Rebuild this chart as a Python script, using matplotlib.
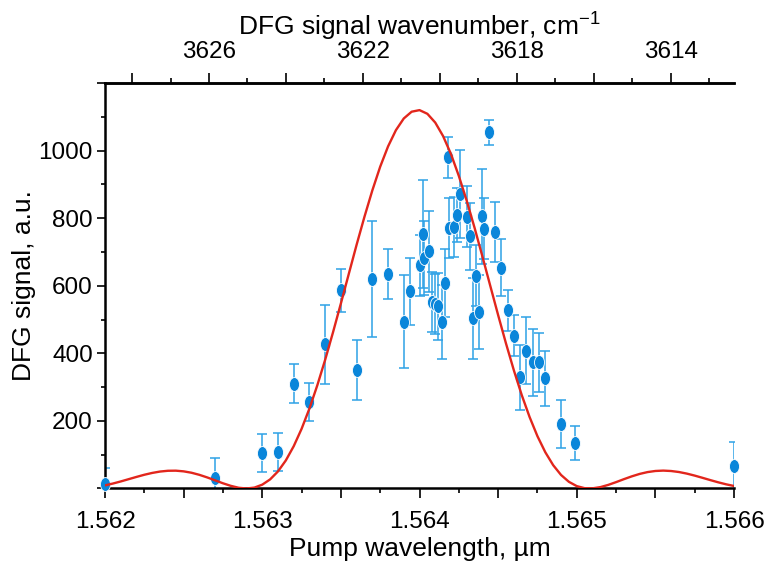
import numpy as np
import matplotlib
matplotlib.use("Agg")
import matplotlib.pyplot as plt
from matplotlib.ticker import MultipleLocator, FuncFormatter
from matplotlib.path import Path
from matplotlib.transforms import Affine2D

plt.rcParams['font.family'] = ['Liberation Sans', 'DejaVu Sans']
plt.rcParams['mathtext.fontset'] = 'custom'
plt.rcParams['mathtext.rm'] = 'Liberation Sans'
plt.rcParams['mathtext.default'] = 'regular'

# %% Measured DFG signal (pump wavelength in um, signal in a.u., error)
wl = [1.56200, 1.56270, 1.56300, 1.56310, 1.56320, 1.56330, 1.56340, 1.56350,
      1.56360, 1.56370, 1.56380, 1.56390, 1.56394, 1.56400, 1.56402, 1.56403,
      1.56406, 1.56408, 1.56410, 1.56412, 1.56414, 1.56416, 1.56418, 1.56419,
      1.56422, 1.56424, 1.56426, 1.56430, 1.56432, 1.56434, 1.56436, 1.56438,
      1.56440, 1.56441, 1.56444, 1.56448, 1.56452, 1.56456, 1.56460, 1.56464,
      1.56468, 1.56472, 1.56476, 1.56480, 1.56490, 1.56499, 1.56600]
signal = [12, 30, 104, 108, 310, 257, 427, 586,
          351, 620, 635, 494, 583, 660, 753, 683,
          702, 552, 546, 539, 492, 608, 980, 771,
          774, 810, 872, 804, 746, 504, 630, 523,
          805, 769, 1054, 759, 654, 527, 452, 329,
          408, 374, 374, 326, 191, 135, 68]
err = [48, 60, 56, 57, 58, 56, 117, 63,
       89, 172, 74, 138, 100, 90, 160, 110,
       120, 90, 90, 100, 110, 100, 60, 90,
       90, 80, 130, 90, 100, 120, 90, 110,
       140, 90, 38, 90, 85, 60, 60, 96,
       99, 99, 87, 82, 70, 50, 70]

# %% Calculated curve
curve_wl = np.round(np.arange(1.562, 1.56601, 0.00005), 5)
curve = [9.2, 14.6, 20.8, 27.5, 34.2, 40.6, 46.0, 50.1, 52.4, 52.7,
         50.7, 46.6, 40.4, 32.7, 24.1, 15.4, 7.8, 2.1, 0.0, 2.6,
         11.3, 26.9, 50.5, 83.1, 125.1, 176.4, 236.6, 305.2, 380.9, 462.3,
         547.6, 634.6, 721.3, 804.3, 882.2, 952.4, 1012.4, 1060.5, 1095.1, 1115.1,
         1119.8, 1108.9, 1083.0, 1042.9, 989.8, 925.0, 851.9, 771.7, 686.7, 599.7,
         513.1, 429.1, 349.7, 276.6, 211.5, 154.7, 107.2, 69.0, 40.0, 19.7,
         7.0, 0.9, 0.4, 4.0, 10.6, 18.8, 27.6, 35.9, 43.1, 48.5,
         51.8, 52.9, 51.7, 48.7, 44.0, 38.1, 31.5, 24.7, 18.2, 12.3, 7.4]

# idler offset used for the top wavenumber axis, cm^-1
nu_offset = 2773.34

fig = plt.figure(figsize=(7.67, 5.64), dpi=100)
ax = fig.add_axes([0.1369, 0.1339, 0.8201, 0.7189])

ellipse = Path.unit_circle().transformed(Affine2D().scale(0.72, 1.0))
line, caps, bars = ax.errorbar(wl, signal, yerr=err, fmt='none', ecolor='#2ea2e6',
                               elinewidth=1.1, capsize=3.6, capthick=1.1, zorder=2)
ax.plot(wl, signal, linestyle='none', marker=ellipse, markersize=10,
        markerfacecolor='#0a86da', markeredgecolor='white', markeredgewidth=0.6,
        zorder=3, clip_on=False)
ax.plot(curve_wl, curve, color='#e2261c', linewidth=1.7, zorder=4)

ax.set_xlim(1.562, 1.566)
ax.set_ylim(0, 1200)

ax.xaxis.set_major_locator(MultipleLocator(0.0005))
ax.xaxis.set_minor_locator(MultipleLocator(0.00025))
ax.xaxis.set_major_formatter(FuncFormatter(
    lambda v, p: f"{v:.3f}" if abs(v * 1000 - round(v * 1000)) < 1e-6 else ""))
ax.yaxis.set_major_locator(MultipleLocator(200))
ax.yaxis.set_minor_locator(MultipleLocator(100))
ax.yaxis.set_major_formatter(FuncFormatter(
    lambda v, p: f"{v:.0f}" if 0 < v < 1100 else ""))

ax.spines['right'].set_visible(False)
for s in ['left', 'bottom', 'top']:
    ax.spines[s].set_linewidth(1.8)
ax.tick_params(axis='x', which='major', direction='out', length=7.2, width=1.2,
               labelsize=17.5, pad=9)
ax.tick_params(axis='x', which='minor', direction='out', length=3.6, width=1.2)
ax.tick_params(axis='y', which='major', direction='out', length=5.8, width=1.2,
               labelsize=17.5, pad=3)
ax.tick_params(axis='y', which='minor', direction='out', length=3.0, width=1.2)

ax.set_xlabel("Pump wavelength, µm", fontsize=19, labelpad=3)
ax.set_ylabel("DFG signal, a.u.", fontsize=19, labelpad=2)

top = ax.secondary_xaxis('top', functions=(lambda x: 1e4 / x - nu_offset,
                                           lambda n: 1e4 / (n + nu_offset)))
top.xaxis.set_major_locator(MultipleLocator(2))
top.xaxis.set_minor_locator(MultipleLocator(1))
top.xaxis.set_major_formatter(FuncFormatter(
    lambda v, p: f"{v:.0f}" if int(round(v)) % 4 == 2 else ""))
top.spines['top'].set_linewidth(1.8)
top.tick_params(axis='x', which='major', direction='out', length=7.2, width=1.2,
                labelsize=17.5, pad=7)
top.tick_params(axis='x', which='minor', direction='out', length=3.6, width=1.2)
top.set_xlabel("DFG signal wavenumber, cm$^{-1}$", fontsize=19, labelpad=4)

fig.savefig("out.png", dpi=100)
